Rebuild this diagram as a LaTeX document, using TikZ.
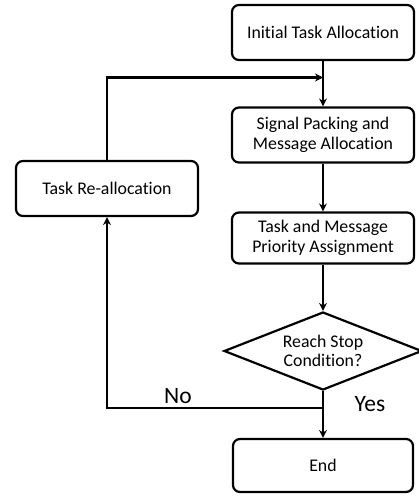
\documentclass[tikz,border=0pt]{standalone}
\usepackage{fontspec}
\setmainfont{Carlito}[Ligatures={NoCommon,NoContextual}]
\usetikzlibrary{shapes.geometric,arrows.meta}
\begin{document}
\begin{tikzpicture}[x=1pt,y=-1pt,
  box/.style={draw,line width=2.2pt,rounded corners=7pt,minimum width=182pt,align=center,inner sep=0pt,font=\fontsize{17.8}{19.5}\selectfont},
  dec/.style={draw,line width=2.2pt,diamond,aspect=2.5,minimum width=198pt,minimum height=78pt,inner sep=0pt,align=center,font=\fontsize{17.8}{19.5}\selectfont},
  conn/.style={line width=2.2pt,-{Stealth[length=8pt,width=8pt]}},
  lbl/.style={font=\fontsize{23.5}{26}\selectfont}]
\useasboundingbox (0,0) rectangle (418,498);
\node[box,minimum height=55pt] (init) at (323,32.5) {Initial Task Allocation};
\node[box,minimum height=55pt] (sig) at (323,135) {Signal Packing and\\Message Allocation};
\node[box,minimum height=51pt] (prio) at (323,238) {Task and Message\\Priority Assignment};
\node[dec] (stop) at (323,351) {Reach Stop\\Condition?};
\node[box,minimum width=180pt,minimum height=53pt] (end) at (323,465.5) {End};
\node[box,minimum height=55pt] (re) at (107,188.5) {Task Re-allocation};
\coordinate (br) at (323,408);
\coordinate (bl) at (107,408);
\coordinate (tl) at (107,77.5);
\coordinate (tr) at (323,77.5);
\draw[conn] (init) -- (sig);
\draw[conn] (sig) -- (prio);
\draw[conn] (prio) -- (stop);
\draw[conn] (stop) -- (end);
\draw[conn] (br) -- (bl) -- (re);
\draw[conn] (re) -- (tl) -- (tr);
\node[lbl] (no) at (178,396) {No};
\node[lbl] (yes) at (370,404) {Yes};
\end{tikzpicture}
\end{document}
